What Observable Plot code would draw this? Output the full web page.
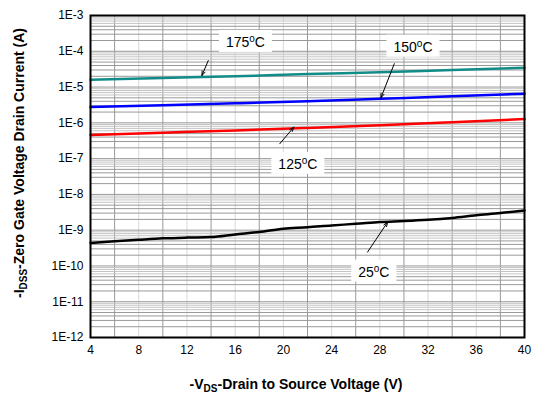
<!DOCTYPE html>
<html>
<head>
<meta charset="utf-8">
<script src="https://cdn.jsdelivr.net/npm/d3@7"></script>
<script src="https://cdn.jsdelivr.net/npm/@observablehq/plot@0.6"></script>
<style>
  html, body { margin: 0; padding: 0; background: #fff; }
  #chart { width: 535px; height: 396px; }
</style>
</head>
<body>
<div id="chart"></div>
<script>
// ---- data ----
const vdsHot = [4, 10, 16, 22, 28, 34, 40];
const id175 = [1.6e-5, 1.8e-5, 2.0e-5, 2.3e-5, 2.6e-5, 3.0e-5, 3.45e-5];
const id150 = [2.75e-6, 3.1e-6, 3.5e-6, 4.0e-6, 4.7e-6, 5.5e-6, 6.5e-6];
const id125 = [4.6e-7, 5.3e-7, 6.1e-7, 7.2e-7, 8.6e-7, 1.04e-6, 1.27e-6];
const vds25 = [4, 6, 8, 10, 12, 14, 16, 18, 20, 22, 24, 26, 28, 30, 32, 34, 36, 38, 40];
const id25 = [4.4e-10, 4.9e-10, 5.4e-10, 5.9e-10, 6.2e-10, 6.4e-10, 7.6e-10, 8.9e-10, 1.1e-9, 1.2e-9,
              1.36e-9, 1.5e-9, 1.7e-9, 1.8e-9, 1.95e-9, 2.2e-9, 2.6e-9, 3.0e-9, 3.57e-9];

const xTicks = [4, 8, 12, 16, 20, 24, 28, 32, 36, 40];
const yTicks = [1e-12, 1e-11, 1e-10, 1e-9, 1e-8, 1e-7, 1e-6, 1e-5, 1e-4, 1e-3];

const labelTemps = ["175", "150", "125", "25"];
const labelX = [16.85, 30.75, 21.2, 27.5];
const labelY = [1.76e-4, 1.30e-4, 6.9e-8, 6.75e-11];

const arrowX1 = [13.77, 29.2, 19.7, 26.98];
const arrowY1 = [5.5e-5, 4.5e-5, 2.6e-7, 2.44e-10];
const arrowX2 = [13.24, 28.09, 20.87, 28.65];
const arrowY2 = [2.1e-5, 5.0e-6, 7.6e-7, 1.68e-9];

const seriesColors = ["#118c88", "#0000ff", "#ff0000", "#000000"];

// ---- derived tables ----
const curves = [
  ...vdsHot.map((v, i) => ({ s: "175", x: v, y: id175[i] })),
  ...vdsHot.map((v, i) => ({ s: "150", x: v, y: id150[i] })),
  ...vdsHot.map((v, i) => ({ s: "125", x: v, y: id125[i] })),
  ...vds25.map((v, i) => ({ s: "25", x: v, y: id25[i] }))
];
const labels = labelTemps.map((t, i) => ({ t, x: labelX[i], y: labelY[i] }));
const arrows = labelTemps.map((t, i) => ({ x1: arrowX1[i], y1: arrowY1[i], x2: arrowX2[i], y2: arrowY2[i] }));

const darkV = d3.range(6, 40, 4);
const lightV = d3.range(8, 40, 4);
const minorLight = [], minorDark = [];
for (let e = -12; e < -3; e++) {
  for (let m = 2; m <= 9; m++) {
    (m >= 6 ? minorLight : minorDark).push(m * Math.pow(10, e));
  }
}

const chart = Plot.plot({
  width: 535,
  height: 396,
  marginLeft: 90,
  marginRight: 11,
  marginTop: 15,
  marginBottom: 59,
  style: { fontFamily: "'Liberation Sans', Arial, sans-serif", fontSize: "12px", background: "#fff" },
  x: { domain: [4, 40], ticks: xTicks, label: null },
  y: { type: "log", domain: [1e-12, 1e-3], ticks: yTicks, label: null },
  marks: [
    Plot.ruleX(lightV, { stroke: "#d8d8d8", strokeWidth: 1 }),
    Plot.ruleX(darkV, { stroke: "#999", strokeWidth: 1 }),
    Plot.ruleY(minorLight, { stroke: "#c4c4c4", strokeWidth: 1 }),
    Plot.ruleY(minorDark, { stroke: "#999", strokeWidth: 1 }),
    Plot.ruleY(yTicks, { stroke: "#999", strokeWidth: 1 }),
    Plot.axisX({ ticks: xTicks, tickSize: 0, tickPadding: 8, fontSize: 12, fill: "#000", label: null }),
    Plot.axisY({ ticks: yTicks, tickSize: 0, tickPadding: 7, fontSize: 12, fill: "#000", label: null,
                 tickFormat: d => "1E" + Math.round(Math.log10(d)) }),
    Plot.line(curves, { x: "x", y: "y", z: "s", stroke: "s", strokeWidth: 2.5, curve: "monotone-x" }),
    Plot.arrow(arrows, { x1: "x1", y1: "y1", x2: "x2", y2: "y2", stroke: "#000", strokeWidth: 1, headLength: 7, headAngle: 40 }),
    Plot.text(labels, { x: "x", y: "y", text: "t", fontSize: 14, fill: "#000", className: "templabel" }),
    Plot.frame({ stroke: "#000", strokeWidth: 2 })
  ],
  color: { domain: ["175", "150", "125", "25"], range: seriesColors }
});

document.getElementById("chart").appendChild(chart);

const svg = d3.select(chart);

// superscript "o" and white boxes for temperature labels
svg.selectAll(".templabel text").each(function () {
  const el = d3.select(this);
  const num = el.text();
  el.text(null);
  el.append("tspan").text(num);
  el.append("tspan").attr("dy", "-5").attr("font-size", "10px").text("o");
  el.append("tspan").attr("dy", "5").text("C");
  const bb = this.getBBox();
  const g = d3.select(this.parentNode);
  const t = el.attr("transform");
  g.insert("rect", () => this)
    .attr("transform", t)
    .attr("x", bb.x - 7).attr("y", bb.y - 3)
    .attr("width", bb.width + 14).attr("height", bb.height + 5)
    .attr("fill", "#fff");
});

// axis titles with subscripts
const xt = svg.append("text")
  .attr("x", 296).attr("y", 389)
  .attr("text-anchor", "middle")
  .attr("font-weight", "bold").attr("font-size", "14px");
xt.append("tspan").text("-V");
xt.append("tspan").attr("dy", "3").attr("font-size", "10px").text("DS");
xt.append("tspan").attr("dy", "-3").text("-Drain to Source Voltage (V)");

const yt = svg.append("text")
  .attr("transform", "translate(24,163) rotate(-90)")
  .attr("text-anchor", "middle")
  .attr("font-weight", "bold").attr("font-size", "14px");
yt.append("tspan").text("-I");
yt.append("tspan").attr("dy", "3").attr("font-size", "10px").text("DSS");
yt.append("tspan").attr("dy", "-3").text("-Zero Gate Voltage Drain Current (A)");
</script>
</body>
</html>
